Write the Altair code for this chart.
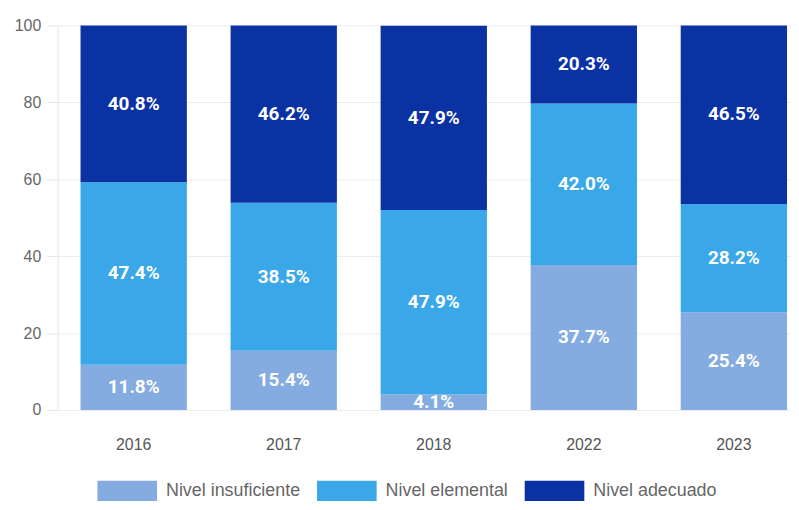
import altair as alt
import pandas as pd

years = ["2016", "2017", "2018", "2022", "2023"]
levels = ["Nivel insuficiente", "Nivel elemental", "Nivel adecuado"]
insuficiente = [11.8, 15.4, 4.1, 37.7, 25.4]
elemental = [47.4, 38.5, 47.9, 42.0, 28.2]
adecuado = [40.8, 46.2, 47.9, 20.3, 46.5]
colors = ["#84ACE0", "#3AA8E8", "#0A32A3"]

rows = []
for i, y in enumerate(years):
    for k, (lev, vals) in enumerate(zip(levels, [insuficiente, elemental, adecuado])):
        rows.append({"year": y, "level": lev, "orden": k, "value": vals[i]})
df = pd.DataFrame(rows)

x_enc = alt.X("year:N", sort=years, title=None,
              scale=alt.Scale(range=[0, 757], paddingInner=0.2914, paddingOuter=0.1523),
              axis=alt.Axis(labelAngle=0, domain=False, ticks=False, labelPadding=27,
                            labelFontSize=16, labelColor="#555555", labelFont="Liberation Sans"))

base = alt.Chart(df).transform_stack(
    stack="value", groupby=["year"], sort=[alt.SortField("orden", order="ascending")], as_=["y0", "y1"]
).transform_calculate(
    mid="(datum.y0 + datum.y1) / 2",
    label="format(datum.value, '.1f') + '%'",
)

bars = base.mark_bar(size=107).encode(
    x=x_enc,
    y=alt.Y("y0:Q", title=None,
            scale=alt.Scale(domain=[0, 100], nice=False, clamp=True),
            axis=alt.Axis(values=[0, 20, 40, 60, 80, 100], labelFontSize=16, labelColor="#666666",
                          labelFont="Liberation Sans", tickSize=11, tickColor="#e6e6e6",
                          labelPadding=6, domainColor="#e6e6e6", gridColor="#ececec")),
    y2="y1:Q",
    color=alt.Color("level:N", sort=levels, title=None,
                    scale=alt.Scale(domain=levels, range=colors),
                    legend=alt.Legend(orient="none", direction="horizontal", legendX=40, legendY=438,
                                      symbolType="M-1,-0.34H1V0.34H-1Z", symbolSize=3600,
                                      symbolStrokeWidth=0, symbolOpacity=1,
                                      labelFontSize=18, labelColor="#666666", labelFont="Liberation Sans",
                                      labelOffset=9, columnPadding=16, padding=0)),
    order=alt.Order("orden:Q"),
)

labels = base.mark_text(color="white", fontWeight="bold", fontSize=19,
                        font="Roboto", baseline="middle").encode(
    x=x_enc,
    y=alt.Y("mid:Q"),
    text="label:N",
)

chart = alt.layer(bars, labels).properties(
    width=738, height=387,
    autosize=alt.AutoSizeParams(type="none"),
    padding={"left": 50, "top": 16, "right": 0, "bottom": 91},
).configure_view(stroke=None)

chart.save("out.html", embed_options={"renderer": "svg", "actions": False})
